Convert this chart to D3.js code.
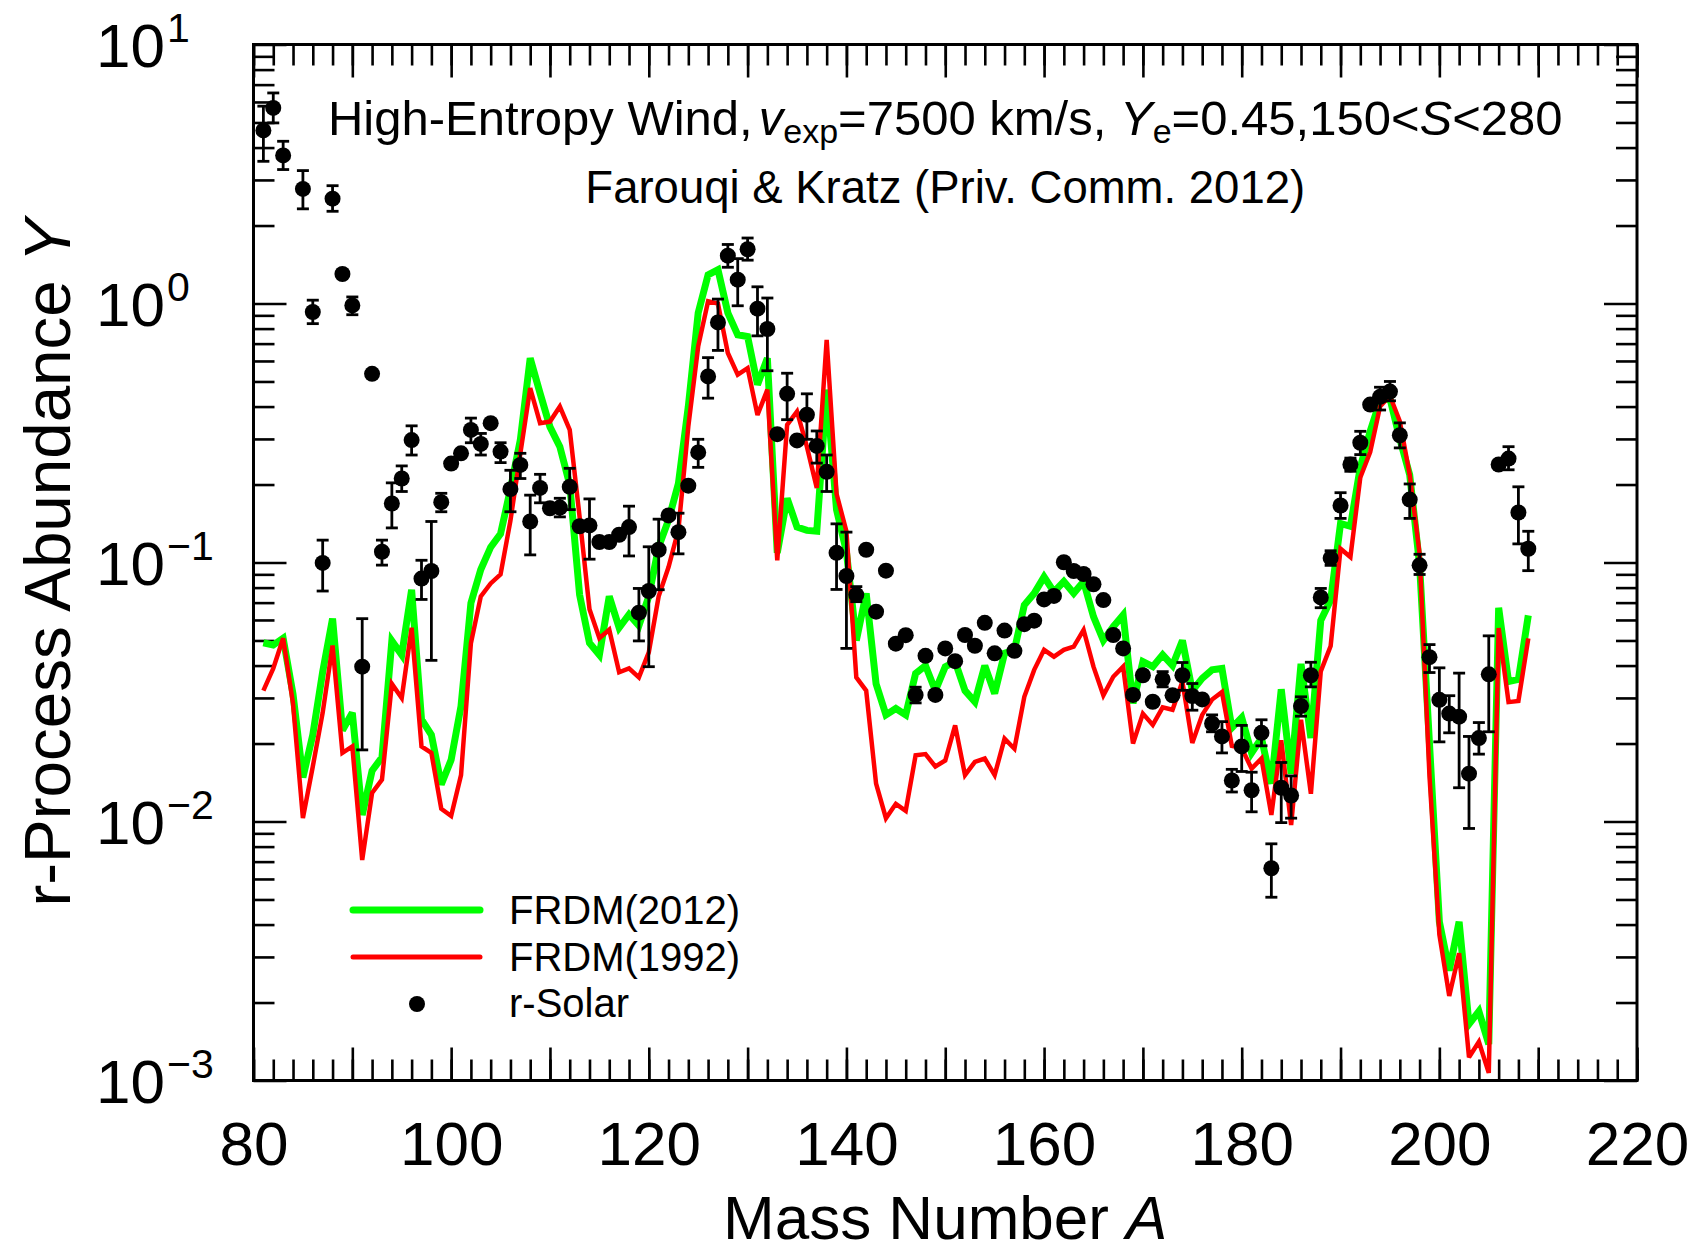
<!DOCTYPE html>
<html>
<head>
<meta charset="utf-8">
<script src="https://cdn.jsdelivr.net/npm/d3@7"></script>
<style>
  html, body { margin: 0; padding: 0; background: #fff; }
  svg { display: block; }
  text { font-family: "Liberation Sans", Arial, Helvetica, sans-serif; fill: #000; }
</style>
</head>
<body>
<svg id="chart" width="1699" height="1253"></svg>
<script>
// ---------------- data ----------------
const massNumbers = [81,82,83,84,85,86,87,88,89,90,91,92,93,94,95,96,97,98,99,100,
  101,102,103,104,105,106,107,108,109,110,111,112,113,114,115,116,117,118,119,120,
  121,122,123,124,125,126,127,128,129,130,131,132,133,134,135,136,137,138,139,140,
  141,142,143,144,145,146,147,148,149,150,151,152,153,154,155,156,157,158,159,160,
  161,162,163,164,165,166,167,168,169,170,171,172,173,174,175,176,177,178,179,180,
  181,182,183,184,185,186,187,188,189,190,191,192,193,194,195,196,197,198,199,200,
  201,202,203,204,205,206,207,208,209];

const frdm2012 = [0.049,0.048,0.051,0.031,0.0148,0.0216,0.0378,0.0607,0.0225,0.0263,
  0.0106,0.0157,0.0177,0.0498,0.044,0.0785,0.0248,0.0216,0.0139,0.0173,
  0.0279,0.0697,0.094,0.1146,0.129,0.192,0.297,0.615,0.45,0.334,
  0.28,0.2,0.075,0.0489,0.044,0.074,0.056,0.063,0.057,0.074,
  0.115,0.146,0.202,0.40,0.92,1.29,1.35,0.92,0.757,0.746,
  0.486,0.615,0.109,0.177,0.137,0.133,0.132,0.465,0.16,0.11,
  0.05,0.076,0.034,0.0258,0.0273,0.0258,0.0373,0.040,0.032,0.0396,
  0.0414,0.032,0.029,0.040,0.0312,0.0446,0.0459,0.0685,0.076,0.088,
  0.077,0.0844,0.076,0.0844,0.0618,0.050,0.0565,0.0627,0.0286,0.0414,
  0.0396,0.044,0.040,0.050,0.032,0.0357,0.0385,0.039,0.023,0.0252,
  0.0184,0.021,0.014,0.0324,0.0153,0.0406,0.021,0.0597,0.0716,0.1415,
  0.138,0.233,0.321,0.421,0.43,0.30,0.218,0.098,0.02,0.0041,
  0.00266,0.0041,0.00165,0.00185,0.00138,0.0669,0.0347,0.0354,0.0625];

const frdm1992 = [0.032,0.039,0.051,0.0285,0.0103,0.0163,0.0263,0.0478,0.0184,0.0195,
  0.0071,0.0129,0.0145,0.034,0.030,0.056,0.0195,0.0184,0.0112,0.0105,
  0.0151,0.0488,0.074,0.083,0.090,0.145,0.263,0.471,0.345,0.35,
  0.40,0.325,0.15,0.066,0.051,0.055,0.0377,0.039,0.036,0.045,
  0.074,0.096,0.134,0.335,0.683,1.02,1.0,0.644,0.531,0.563,
  0.371,0.465,0.102,0.34,0.383,0.28,0.194,0.724,0.184,0.132,
  0.036,0.032,0.014,0.0103,0.0117,0.011,0.018,0.0182,0.0163,0.0172,
  0.0235,0.0151,0.017,0.0175,0.0151,0.0209,0.0191,0.0303,0.0385,0.046,
  0.0433,0.046,0.0473,0.0549,0.0396,0.0307,0.0362,0.0396,0.020,0.0261,
  0.0236,0.0276,0.027,0.0347,0.0201,0.0258,0.0296,0.0316,0.0196,0.0192,
  0.016,0.0175,0.0106,0.0206,0.0097,0.0247,0.0128,0.038,0.0476,0.113,
  0.105,0.213,0.267,0.40,0.44,0.351,0.218,0.108,0.015,0.00366,
  0.00212,0.0031,0.00123,0.00141,0.00107,0.0558,0.0289,0.0292,0.0509];

const solarA = [81,82,83,85,86,87,88,89,90,91,92,93,94,95,96,97,98,99,100,
  101,102,103,104,105,106,107,108,109,110,111,112,113,114,115,116,117,118,119,120,
  121,122,123,124,125,126,127,128,129,130,131,132,133,134,135,136,137,138,139,140,
  141,142,143,144,145,146,147,148,149,150,151,152,153,154,155,156,157,158,159,160,
  161,162,163,164,165,166,167,168,169,170,171,172,173,174,175,176,177,178,179,180,
  181,182,183,184,185,186,187,188,189,190,191,192,193,194,195,196,197,198,199,200,
  201,202,203,204,205,206,207,208,209];

const solarY = [4.66,5.69,3.73,2.77,0.927,0.0996,2.54,1.30,0.983,0.0396,0.535,0.110,0.169,0.211,0.297,0.0867,0.0927,0.171,0.241,
  0.264,0.325,0.287,0.345,0.268,0.192,0.238,0.144,0.194,0.162,0.163,0.196,0.138,0.139,0.12,0.12,0.128,0.137,0.064,0.0776,
  0.112,0.152,0.131,0.198,0.266,0.523,0.845,1.53,1.236,1.62,0.955,0.797,0.313,0.448,0.296,0.372,0.282,0.224,0.109,0.0887,
  0.075,0.112,0.0646,0.093,0.0486,0.0524,0.0308,0.0436,0.0308,0.0466,0.0416,0.0525,0.0477,0.0585,0.0446,0.0546,0.0456,0.0578,0.0596,0.072,
  0.0743,0.1002,0.0927,0.0903,0.0824,0.0716,0.0525,0.0466,0.0308,0.0367,0.029,0.0354,0.0307,0.0367,0.0305,0.0296,0.0239,0.0213,0.0144,0.0195,
  0.0132,0.022,0.0066,0.0135,0.0126,0.0279,0.0367,0.0733,0.104,0.166,0.239,0.290,0.407,0.436,0.457,0.31,0.175,0.0975,0.0431,0.0295,
  0.0261,0.0254,0.0153,0.021,0.037,0.239,0.252,0.156,0.113];

const solarLo = [3.54,4.98,3.29,2.32,0.836,0.0776,2.27,null,0.905,0.0189,null,0.0977,0.136,0.188,0.26,0.072,0.0419,0.157,null,
  null,0.29,0.26,null,0.243,0.157,0.211,0.107,0.17,null,0.15,0.16,null,0.103,null,null,null,0.106,0.0498,0.0396,
  0.0785,null,0.108,null,0.233,0.431,0.659,1.38,0.98,1.47,0.75,0.55,null,0.356,null,0.299,0.242,0.188,0.0787,0.0466,
  0.0706,null,null,null,null,null,0.0287,null,null,null,null,null,null,null,null,null,null,null,null,null,
  null,null,null,null,null,null,null,null,null,null,null,0.0331,null,0.0321,0.0269,null,0.0222,0.0184,0.013,0.0156,
  0.0109,0.0196,0.0051,0.0099,0.0103,0.0255,0.0331,0.0669,0.0975,0.148,0.225,0.261,null,0.388,0.421,0.277,0.148,0.0899,0.0376,0.0203,
  0.022,0.0135,0.0094,0.0182,0.0222,null,0.228,0.118,0.093];

const solarHi = [5.78,6.5,4.23,3.26,1.03,0.122,2.85,null,1.06,0.0607,null,0.122,0.203,0.236,0.337,0.102,0.144,0.185,null,
  null,0.361,0.315,null,0.29,0.227,0.264,0.182,0.219,null,0.177,0.231,null,0.176,null,null,null,0.165,0.0794,0.115,
  0.147,null,0.155,null,0.299,0.618,1.04,1.69,1.49,1.79,1.16,1.05,null,0.538,null,0.448,0.322,0.26,0.141,0.131,
  0.0807,null,null,null,null,null,0.033,null,null,null,null,null,null,null,null,null,null,null,null,null,
  null,null,null,null,null,null,null,null,null,null,null,0.0379,null,0.0411,0.0341,null,0.0258,0.0243,0.0159,0.0235,
  0.0155,0.0247,0.0082,0.0169,0.015,0.0303,0.0412,0.0794,0.111,0.186,0.253,0.321,null,0.475,0.50,0.346,0.201,0.1076,0.0482,0.0392,
  0.0306,0.0374,0.0213,0.0241,0.0521,null,0.28,0.196,0.132];

const xTickLabels = [80,100,120,140,160,180,200,220];
const yDecades = [1e-3,1e-2,1e-1,1,10];
const yExponents = ["\u22123","\u22122","\u22121","0","1"];
const titleLine1 = ["High-Entropy Wind,", "v", "exp", "=7500 km/s, ", "Y", "e", "=0.45,150<", "S", "<280"];
const titleLine2 = "Farouqi & Kratz (Priv. Comm. 2012)";
const legendLabels = ["FRDM(2012)", "FRDM(1992)", "r-Solar"];

// ---------------- layout ----------------
const L = 253.5, R = 1637, T = 44.5, B = 1080.5;
const svg = d3.select("#chart");
const x = d3.scaleLinear().domain([80, 220]).range([L, R]);
const y = d3.scaleLog().domain([1e-3, 10]).range([B, T]);

const minorY = [];
[1e-3, 1e-2, 1e-1, 1].forEach(d => { for (let k = 2; k <= 9; k++) minorY.push(k * d); });
const majorX = [80,90,100,110,120,130,140,150,160,170,180,190,200,210,220];
const minorX = [];
for (let v = 80; v <= 220; v += 2) minorX.push(v);

function styleAxis(g) {
  g.select(".domain").remove();
  g.selectAll(".tick line").attr("stroke", "#000").attr("stroke-width", 2.6);
  g.selectAll(".tick text").remove();
}
const axes = svg.append("g");
axes.append("g").attr("transform", `translate(0,${B})`).call(d3.axisBottom(x).tickValues(minorX).tickSize(-21)).call(styleAxis);
axes.append("g").attr("transform", `translate(0,${B})`).call(d3.axisBottom(x).tickValues(majorX).tickSize(-33)).call(styleAxis);
axes.append("g").attr("transform", `translate(0,${T})`).call(d3.axisTop(x).tickValues(minorX).tickSize(-21)).call(styleAxis);
axes.append("g").attr("transform", `translate(0,${T})`).call(d3.axisTop(x).tickValues(majorX).tickSize(-33)).call(styleAxis);
axes.append("g").attr("transform", `translate(${L},0)`).call(d3.axisLeft(y).tickValues(minorY).tickSize(-21)).call(styleAxis);
axes.append("g").attr("transform", `translate(${L},0)`).call(d3.axisLeft(y).tickValues(yDecades).tickSize(-33)).call(styleAxis);
axes.append("g").attr("transform", `translate(${R},0)`).call(d3.axisRight(y).tickValues(minorY).tickSize(-21)).call(styleAxis);
axes.append("g").attr("transform", `translate(${R},0)`).call(d3.axisRight(y).tickValues(yDecades).tickSize(-33)).call(styleAxis);

// x tick labels
const xl = svg.append("g").attr("transform", `translate(0,${B})`)
  .call(d3.axisBottom(x).tickValues(xTickLabels).tickSize(0).tickPadding(0).tickFormat(d3.format("d")));
xl.select(".domain").remove();
xl.selectAll(".tick text").attr("font-size", 62).attr("y", 84.5).attr("dy", 0)
  .attr("font-family", '"Liberation Sans", Arial, sans-serif').attr("fill", "#000");

// y tick labels
const yl = svg.append("g").selectAll("text").data(yDecades).join("text")
  .attr("x", 96).attr("y", d => y(d) + 22.5).attr("font-size", 62);
yl.append("tspan").text("10");
yl.append("tspan").attr("font-size", 41).attr("dy", -25).attr("dx", 2).text((d, i) => yExponents[i]);

// axis titles
const xt = svg.append("text").attr("x", (L + R) / 2).attr("y", 1239).attr("text-anchor", "middle").attr("font-size", 62);
xt.append("tspan").text("Mass Number ");
xt.append("tspan").attr("font-style", "italic").text("A");

const yt = svg.append("text").attr("transform", `translate(70,${(T + B) / 2}) rotate(-90)`)
  .attr("text-anchor", "middle").attr("font-size", 65.5);
yt.append("tspan").text("r-Process Abundance ");
yt.append("tspan").attr("font-style", "italic").text("Y");

// title
const t1 = svg.append("text").attr("x", (L + R) / 2).attr("y", 135).attr("text-anchor", "middle").attr("font-size", 49);
t1.append("tspan").text(titleLine1[0]);
t1.append("tspan").attr("dx", 6).attr("font-style", "italic").text(titleLine1[1]);
t1.append("tspan").attr("font-size", 34).attr("dy", 8).text(titleLine1[2]);
t1.append("tspan").attr("dy", -8).text(titleLine1[3]);
t1.append("tspan").attr("font-style", "italic").text(titleLine1[4]);
t1.append("tspan").attr("font-size", 34).attr("dy", 8).text(titleLine1[5]);
t1.append("tspan").attr("dy", -8).text(titleLine1[6]);
t1.append("tspan").attr("font-style", "italic").text(titleLine1[7]);
t1.append("tspan").text(titleLine1[8]);

svg.append("text").attr("x", (L + R) / 2).attr("y", 203).attr("text-anchor", "middle")
  .attr("font-size", 45.5).text(titleLine2);

// ---------------- series ----------------
const plot = svg.append("g");
const line = (vals) => d3.line().x((d, i) => x(massNumbers[i])).y(d => y(d))(vals);

plot.append("path").attr("d", line(frdm2012)).attr("fill", "none")
  .attr("stroke", "#00ff00").attr("stroke-width", 7).attr("stroke-linejoin", "miter").attr("stroke-miterlimit", 3);
plot.append("path").attr("d", line(frdm1992)).attr("fill", "none")
  .attr("stroke", "#ff0000").attr("stroke-width", 4.5).attr("stroke-linejoin", "miter").attr("stroke-miterlimit", 3);

const solar = solarA.map((a, i) => ({ a, v: solarY[i], lo: solarLo[i], hi: solarHi[i] }));
const eb = plot.append("g").attr("stroke", "#000").attr("stroke-width", 2.8);
const withErr = solar.filter(d => d.lo !== null && d.hi !== null);
eb.selectAll("line.v").data(withErr).join("line").attr("class", "v")
  .attr("x1", d => x(d.a)).attr("x2", d => x(d.a)).attr("y1", d => y(d.lo)).attr("y2", d => y(d.hi));
eb.selectAll("line.cl").data(withErr).join("line").attr("class", "cl")
  .attr("x1", d => x(d.a) - 6).attr("x2", d => x(d.a) + 6).attr("y1", d => y(d.lo)).attr("y2", d => y(d.lo));
eb.selectAll("line.ch").data(withErr).join("line").attr("class", "ch")
  .attr("x1", d => x(d.a) - 6).attr("x2", d => x(d.a) + 6).attr("y1", d => y(d.hi)).attr("y2", d => y(d.hi));
plot.append("g").selectAll("circle").data(solar).join("circle")
  .attr("cx", d => x(d.a)).attr("cy", d => y(d.v)).attr("r", 8).attr("fill", "#000");

// ---------------- legend ----------------
const lg = svg.append("g");
lg.append("line").attr("x1", 353).attr("x2", 480).attr("y1", 910).attr("y2", 910)
  .attr("stroke", "#00ff00").attr("stroke-width", 7).attr("stroke-linecap", "round");
lg.append("line").attr("x1", 353).attr("x2", 480).attr("y1", 957).attr("y2", 957)
  .attr("stroke", "#ff0000").attr("stroke-width", 5).attr("stroke-linecap", "round");
lg.append("circle").attr("cx", 417).attr("cy", 1004).attr("r", 8).attr("fill", "#000");
lg.selectAll("text").data(legendLabels).join("text")
  .attr("x", 509).attr("y", (d, i) => [924, 971, 1017][i]).attr("font-size", 40).text(d => d);

// frame
svg.append("rect").attr("x", L).attr("y", T).attr("width", R - L).attr("height", B - T)
  .attr("fill", "none").attr("stroke", "#000").attr("stroke-width", 3);
</script>
</body>
</html>
